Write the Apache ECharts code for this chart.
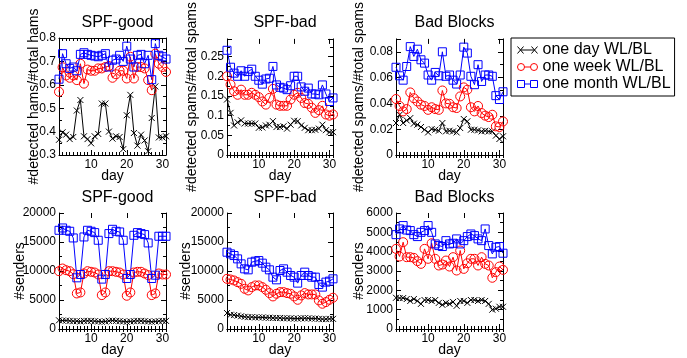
<!DOCTYPE html>
<html>
<head>
<meta charset="utf-8">
<script src="https://cdn.jsdelivr.net/npm/echarts@6/dist/echarts.min.js"></script>
<style>
  html, body { margin: 0; background: #fff; }
  #main { width: 687px; height: 358px; }
</style>
</head>
<body>
<div id="main"></div>
<script>
const days = [1, 2, 3, 4, 5, 6, 7, 8, 9, 10, 11, 12, 13, 14, 15, 16, 17, 18, 19, 20, 21, 22, 23, 24, 25, 26, 27, 28, 29, 30, 31];
const xTickLabels = [10, 20, 30];
const seriesNames = ["one day WL/BL", "one week WL/BL", "one month WL/BL"];

// SPF-good: #detected hams/#total hams
const hamsGoodDay = [0.365, 0.397, 0.387, 0.368, 0.377, 0.49, 0.535, 0.38, 0.368, 0.35, 0.38, 0.39, 0.52, 0.52, 0.40, 0.37, 0.38, 0.377, 0.325, 0.47, 0.557, 0.394, 0.34, 0.387, 0.362, 0.316, 0.458, 0.593, 0.375, 0.375, 0.38];
const hamsGoodWeek = [0.57, 0.675, 0.64, 0.63, 0.64, 0.62, 0.69, 0.605, 0.665, 0.66, 0.66, 0.67, 0.67, 0.676, 0.68, 0.63, 0.645, 0.66, 0.66, 0.627, 0.72, 0.627, 0.676, 0.676, 0.67, 0.62, 0.577, 0.733, 0.69, 0.676, 0.655];
const hamsGoodMonth = [0.624, 0.733, 0.69, 0.67, 0.676, 0.66, 0.73, 0.737, 0.73, 0.726, 0.723, 0.72, 0.726, 0.733, 0.676, 0.705, 0.71, 0.726, 0.70, 0.765, 0.71, 0.676, 0.726, 0.73, 0.69, 0.726, 0.622, 0.776, 0.726, 0.72, 0.71];

// SPF-bad: #detected spams/#total spams
const spamsBadDay = [0.141, 0.107, 0.075, 0.083, 0.088, 0.08, 0.08, 0.08, 0.08, 0.069, 0.07, 0.075, 0.077, 0.086, 0.071, 0.071, 0.073, 0.067, 0.077, 0.087, 0.086, 0.075, 0.069, 0.063, 0.063, 0.064, 0.067, 0.077, 0.063, 0.058, 0.058];
const spamsBadWeek = [0.2, 0.179, 0.162, 0.153, 0.166, 0.153, 0.153, 0.158, 0.153, 0.147, 0.136, 0.128, 0.145, 0.168, 0.128, 0.125, 0.125, 0.125, 0.141, 0.153, 0.158, 0.145, 0.132, 0.13, 0.12, 0.107, 0.114, 0.125, 0.103, 0.1, 0.103];
const spamsBadMonth = [0.266, 0.223, 0.208, 0.2, 0.214, 0.2, 0.212, 0.218, 0.2, 0.19, 0.18, 0.193, 0.195, 0.225, 0.178, 0.172, 0.17, 0.166, 0.176, 0.2, 0.2, 0.173, 0.162, 0.17, 0.155, 0.155, 0.153, 0.178, 0.155, 0.136, 0.145];

// Bad Blocks: #detected spams/#total spams
const spamsBlocksDay = [0.0248, 0.0312, 0.0248, 0.0268, 0.0286, 0.0243, 0.0235, 0.0217, 0.0196, 0.0175, 0.0201, 0.0196, 0.0188, 0.0248, 0.0183, 0.0188, 0.0183, 0.0175, 0.0209, 0.0279, 0.0261, 0.0196, 0.0196, 0.0191, 0.0183, 0.0188, 0.0183, 0.0183, 0.015, 0.0124, 0.0145];
const spamsBlocksWeek = [0.0434, 0.038, 0.0338, 0.0356, 0.0485, 0.044, 0.0415, 0.039, 0.038, 0.035, 0.037, 0.0356, 0.035, 0.05, 0.040, 0.0397, 0.037, 0.0364, 0.0454, 0.0524, 0.0506, 0.037, 0.0338, 0.038, 0.0325, 0.0305, 0.0294, 0.0312, 0.0222, 0.0217, 0.026];
const spamsBlocksMonth = [0.068, 0.0614, 0.058, 0.0686, 0.084, 0.0764, 0.082, 0.0738, 0.0712, 0.062, 0.058, 0.064, 0.0614, 0.080, 0.061, 0.062, 0.058, 0.055, 0.062, 0.0836, 0.079, 0.061, 0.0545, 0.07, 0.057, 0.062, 0.062, 0.061, 0.046, 0.043, 0.049];

// SPF-good: #senders
const sendersGoodDay = [1500, 1450, 1450, 1400, 1350, 1350, 1300, 1400, 1400, 1400, 1350, 1300, 1250, 1300, 1400, 1450, 1400, 1350, 1300, 1250, 1300, 1350, 1400, 1400, 1350, 1300, 1250, 1300, 1350, 1400, 1400];
const sendersGoodWeek = [9970, 10430, 10140, 9970, 9455, 6130, 6300, 9570, 9970, 9860, 9740, 9400, 5845, 6300, 9970, 9970, 9860, 9740, 9400, 5730, 6300, 9740, 9860, 9860, 9570, 9280, 5845, 6130, 9570, 9400, 9400];
const sendersGoodMonth = [17020, 17420, 17020, 16850, 15700, 8825, 9400, 15870, 17020, 16850, 16620, 15300, 8600, 9400, 16450, 17190, 16850, 16730, 15300, 8710, 9400, 16160, 16620, 16450, 16275, 14840, 8710, 9280, 15990, 15990, 15990];

// SPF-bad: #senders
const sendersBadDay = [2750, 2450, 2400, 2300, 2200, 2100, 2050, 2050, 2000, 2000, 2000, 1950, 1950, 1900, 1900, 1900, 1850, 1850, 1850, 1800, 1800, 1850, 1850, 1850, 1800, 1800, 1750, 1700, 1700, 1750, 1750];
const sendersBadWeek = [8650, 8540, 8370, 8080, 7790, 6930, 6650, 7220, 7510, 7510, 7220, 6760, 6190, 5615, 6075, 6360, 6360, 6190, 6075, 5615, 5040, 5790, 6190, 5960, 5960, 5960, 4930, 4355, 4640, 5040, 5390];
const sendersBadMonth = [13240, 12950, 12665, 12090, 11230, 10370, 10200, 11520, 11690, 11800, 11350, 10660, 10200, 8940, 8480, 10085, 10370, 9800, 9225, 8940, 7910, 9225, 9800, 9225, 8940, 8940, 7680, 7220, 8080, 8250, 8650];

// Bad Blocks: #senders
const sendersBlocksDay = [1615, 1600, 1600, 1550, 1450, 1550, 1450, 1300, 1500, 1500, 1450, 1500, 1350, 1250, 1350, 1300, 1400, 1200, 1450, 1450, 1350, 1500, 1500, 1450, 1500, 1450, 1300, 1000, 1050, 1150, 1150];
const sendersBlocksWeek = [4145, 3750, 4490, 3715, 3715, 3680, 3510, 3370, 4145, 3630, 4435, 3630, 3285, 3335, 3540, 3230, 3715, 3025, 4060, 3110, 3400, 3630, 3630, 3285, 3715, 3370, 3285, 2650, 2940, 3230, 3060];
const sendersBlocksMonth = [4880, 5175, 5350, 5120, 5090, 4880, 4780, 5000, 5090, 5350, 5000, 4400, 4315, 4265, 4570, 4400, 4435, 4660, 4400, 4570, 4780, 4915, 4830, 4660, 4570, 5175, 4315, 3885, 4230, 4265, 3920];

const panels = [
  { title: "SPF-good", yName: "#detected hams/#total hams", data: [hamsGoodDay, hamsGoodWeek, hamsGoodMonth],
    min: 0.3, max: 0.8, interval: 0.1, showMax: true, left: 59, top: 38, width: 107, height: 117, nameGap: 18 },
  { title: "SPF-bad", yName: "#detected spams/#total spams", data: [spamsBadDay, spamsBadWeek, spamsBadMonth],
    min: 0, max: 0.295, interval: 0.05, showMax: false, left: 227, top: 38, width: 106, height: 117, nameGap: 28 },
  { title: "Bad Blocks", yName: "#detected spams/#total spams", data: [spamsBlocksDay, spamsBlocksWeek, spamsBlocksMonth],
    min: 0, max: 0.09, interval: 0.02, showMax: false, left: 396, top: 38, width: 107, height: 117, nameGap: 30 },
  { title: "SPF-good", yName: "#senders", data: [sendersGoodDay, sendersGoodWeek, sendersGoodMonth],
    min: 0, max: 20000, interval: 5000, showMax: true, left: 59, top: 213, width: 107, height: 116, nameGap: 32 },
  { title: "SPF-bad", yName: "#senders", data: [sendersBadDay, sendersBadWeek, sendersBadMonth],
    min: 0, max: 20000, interval: 5000, showMax: true, left: 227, top: 213, width: 106, height: 116, nameGap: 34 },
  { title: "Bad Blocks", yName: "#senders", data: [sendersBlocksDay, sendersBlocksWeek, sendersBlocksMonth],
    min: 0, max: 6000, interval: 1000, showMax: true, left: 396, top: 213, width: 107, height: 116, nameGap: 30 },
];

const colors = ["#000000", "#ff0000", "#0000ff"];
const symbols = ["path://M0,0L10,10M10,0L0,10", "circle", "rect"];
const symbolSizes = [6, 9, 8];
// legend keys: marker - line - marker, like gnuplot
const legendIcons = [
  "path://M0,0L6,7M6,0L0,7M3,3.5L17,3.5M14,0L20,7M20,0L14,7",
  "path://M0,3.5A3.5,3.5 0 1 1 7,3.5A3.5,3.5 0 1 1 0,3.5M7,3.5L13,3.5M13,3.5A3.5,3.5 0 1 1 20,3.5A3.5,3.5 0 1 1 13,3.5",
  "path://M0,0L7,0L7,7L0,7ZM7,3.5L13,3.5M13,0L20,0L20,7L13,7Z",
];
const black = { color: "#000", width: 1 };

const grids = [], titles = [], xAxes = [], yAxes = [], series = [];

panels.forEach((p, i) => {
  grids.push({ left: p.left, top: p.top, width: p.width, height: p.height });
  titles.push({
    text: p.title, left: p.left + p.width / 2, top: p.top - 28, textAlign: "center",
    textStyle: { fontSize: 16, fontWeight: "normal", color: "#000" },
  });

  // minor day ticks, bottom (with labels) and top
  ["bottom", "top"].forEach((pos) => {
    xAxes.push({
      gridIndex: i, type: "value", position: pos, min: 1, max: 31, interval: 1,
      axisLine: { lineStyle: black },
      axisTick: { inside: true, length: 3, lineStyle: black },
      axisLabel: {
        show: pos === "bottom", color: "#000", fontSize: 12, margin: 4,
        formatter: (v) => (xTickLabels.includes(v) ? String(v) : ""),
      },
      splitLine: { show: false },
      name: pos === "bottom" ? "day" : "",
      nameLocation: "middle", nameGap: 14, nameMoveOverlap: false,
      nameTextStyle: { fontSize: 14, color: "#000" },
    });
  });
  // major ticks at 10/20/30
  ["bottom", "top"].forEach((pos) => {
    xAxes.push({
      gridIndex: i, type: "category", position: pos, data: days, boundaryGap: false,
      axisLine: { show: false },
      axisTick: { inside: true, length: 5, lineStyle: black, interval: (idx, val) => xTickLabels.includes(+val) },
      axisLabel: { show: false },
      splitLine: { show: false },
    });
  });

  ["left", "right"].forEach((pos) => {
    yAxes.push({
      gridIndex: i, type: "value", position: pos, min: p.min, max: p.max, interval: p.interval,
      axisLine: { show: true, lineStyle: black },
      axisTick: { show: true, inside: true, length: 5, lineStyle: black },
      minorTick: { show: true, splitNumber: 2, length: 3, lineStyle: black },
      axisLabel: {
        show: pos === "left", color: "#000", fontSize: 12, margin: 3, showMaxLabel: p.showMax,
        formatter: (v) => String(+v.toFixed(4)),
      },
      splitLine: { show: false },
      name: pos === "left" ? p.yName : "",
      nameLocation: "middle", nameGap: p.nameGap, nameMoveOverlap: false,
      nameTextStyle: { fontSize: 14, color: "#000" },
    });
  });

  p.data.forEach((arr, j) => {
    series.push({
      type: "line", name: seriesNames[j],
      xAxisIndex: i * 4, yAxisIndex: i * 2,
      data: days.map((d, k) => [d, arr[k]]),
      symbol: symbols[j], symbolSize: symbolSizes[j],
      color: colors[j],
      lineStyle: { width: 1, color: colors[j] },
      itemStyle: { color: "rgba(0,0,0,0)", borderColor: colors[j], borderWidth: 1 },
      emphasis: { disabled: true },
    });
  });
});

const chart = echarts.init(document.getElementById("main"));
chart.setOption({
  animation: false,
  textStyle: { fontFamily: "Liberation Sans, Arial, sans-serif" },
  title: titles,
  grid: grids,
  xAxis: xAxes,
  yAxis: yAxes,
  legend: {
    orient: "vertical", left: 511, top: 38,
    padding: [4, 4, 4, 6], itemGap: 1, itemWidth: 20, itemHeight: 7,
    borderColor: "#000", borderWidth: 1,
    itemStyle: { borderWidth: 1 },
    textStyle: { fontSize: 16, color: "#000" },
    data: seriesNames.map((name, j) => ({ name: name, icon: legendIcons[j] })),
  },
  series: series,
});
</script>
</body>
</html>
